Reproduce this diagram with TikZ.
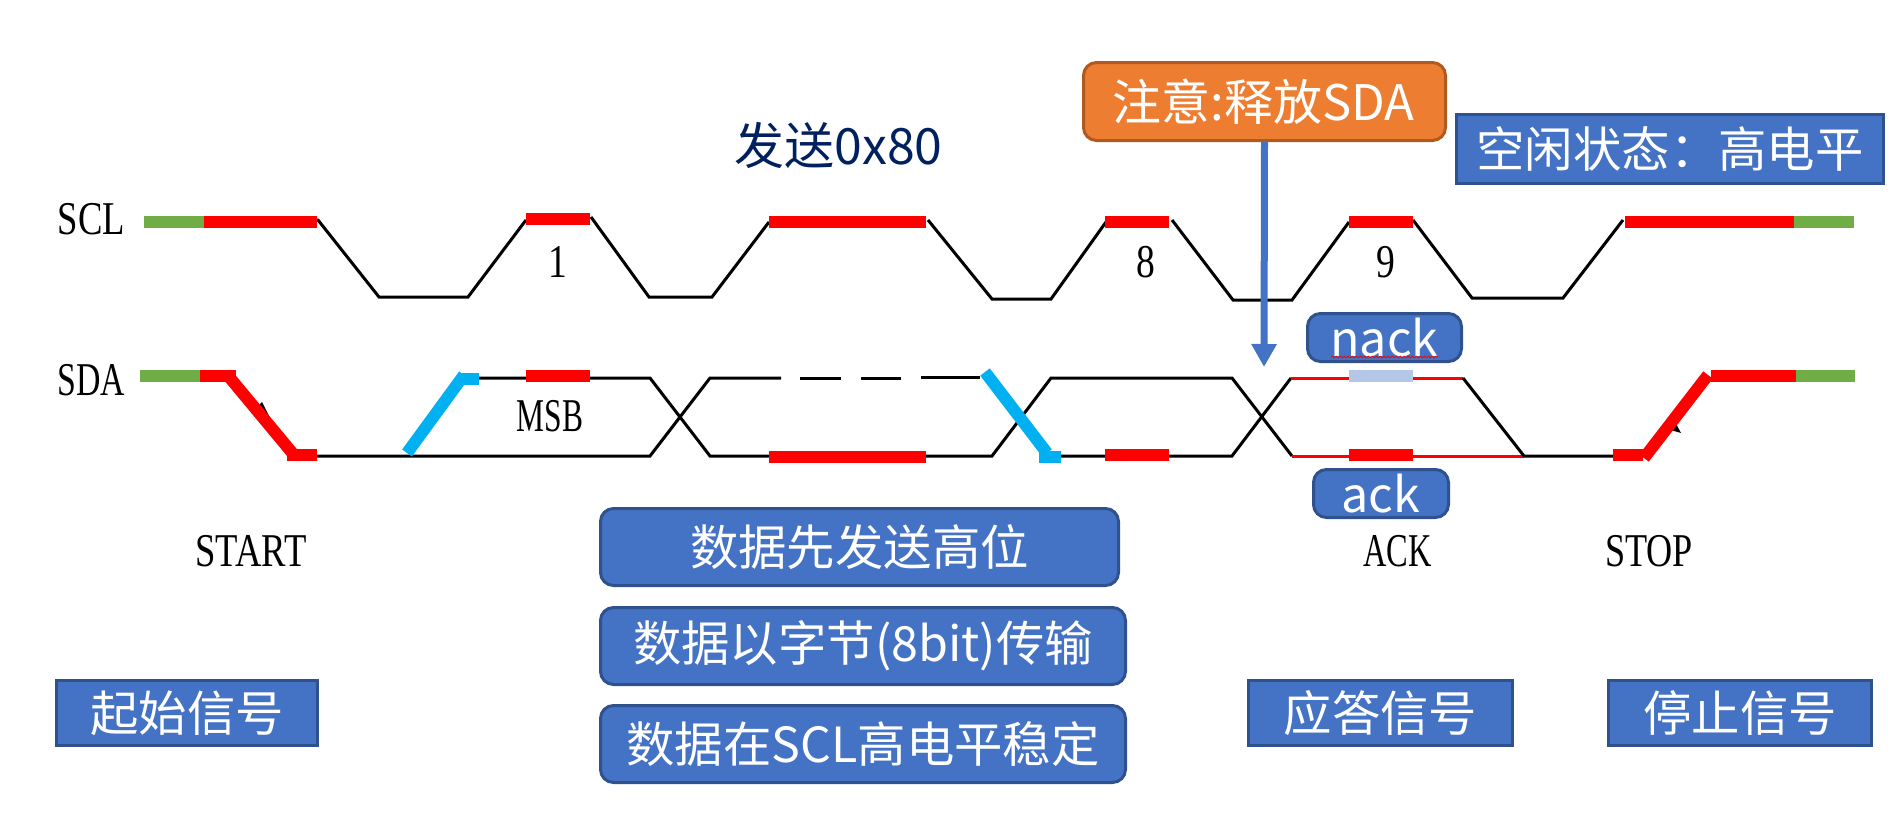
\documentclass[tikz,border=0pt]{standalone}
\usepackage{graphicx}
\usepackage{fontspec}
\setmainfont{Liberation Serif}
\newfontfamily\cjk{Noto Sans CJK SC}
\usetikzlibrary{arrows.meta,decorations.pathmorphing}
\definecolor{boxblue}{HTML}{4472C4}
\definecolor{boxedge}{HTML}{2F528F}
\definecolor{noteorange}{HTML}{ED7D31}
\definecolor{noteedge}{HTML}{AE5A21}
\definecolor{idlegreen}{HTML}{70AD47}
\definecolor{beatred}{HTML}{FF0000}
\definecolor{edgecyan}{HTML}{00B0F0}
\definecolor{paleblue}{HTML}{B4C7E7}
\definecolor{titlenavy}{HTML}{002060}
\newcommand{\cjksize}{\cjk\fontsize{48.4}{52}\selectfont}
\newcommand{\sername}[2]{\scalebox{#1}[1]{\fontsize{47}{48}\selectfont #2}}
\tikzset{
  trace/.style={draw=black,line width=3pt,line join=miter},
  thinred/.style={draw=beatred,line width=3pt},
  bar/.style={line width=12pt,line cap=butt},
  slant/.style={line width=12pt,line cap=butt},
  sharpbox/.style={draw=boxedge,fill=boxblue,line width=3pt,text=white,inner sep=0pt,font=\cjksize},
  roundbox/.style={sharpbox,rounded corners=13pt},
  notebox/.style={roundbox,draw=noteedge,fill=noteorange},
  serlabel/.style={text=black,inner sep=0pt},
  releasearrow/.style={draw=boxblue,line width=7pt,-{Triangle[length=23pt,width=24pt,fill=boxblue]}},
}
\begin{document}
\begin{tikzpicture}[x=1pt,y=-1pt]
\useasboundingbox (0,0) rectangle (1901,814);
% SCL trace
\draw[trace] (317,220) -- (318,220) -- (379,297) -- (468,297) -- (526,220);
\draw[trace] (591,217) -- (649,297) -- (712,297) -- (769,222);
\draw[trace] (928,220) -- (992,299) -- (1051,299) -- (1106,222);
\draw[trace] (1172,220) -- (1233,300) -- (1292,300) -- (1349,222);
\draw[trace] (1413,220) -- (1472,298) -- (1563,298) -- (1623,220);
% SDA trace
\draw[trace] (317,456) -- (650,456) -- (710,378) -- (781,378);
\draw[trace] (800,378) -- (841,378);
\draw[trace] (861,378) -- (901,378);
\draw[trace] (921,377) -- (980,377);
\draw[trace] (479,378) -- (650,378) -- (710,456) -- (992,456) -- (1051,378) -- (1232,378) -- (1292,456);
\draw[trace] (1061,456) -- (1232,456) -- (1291,378);
\draw[thinred] (1291,378) -- (1463,378);
\draw[thinred] (1292,456) -- (1524,456);
\draw[trace] (1463,378) -- (1524,456) -- (1613,456);
% hidden arrow heads
\fill[black] (262,402) -- (270,418) -- (251,413) -- cycle;
\fill[black] (1674,420) -- (1681,433) -- (1664,428) -- cycle;
% SCL bars
\draw[bar,idlegreen] (144,222) -- (204,222);
\draw[bar,beatred] (204,222) -- (317,222);
\draw[bar,beatred] (526,219) -- (590,219);
\draw[bar,beatred] (769,222) -- (926,222);
\draw[bar,beatred] (1105,222) -- (1169,222);
\draw[bar,beatred] (1349,222) -- (1413,222);
\draw[bar,beatred] (1625,222) -- (1794,222);
\draw[bar,idlegreen] (1794,222) -- (1854,222);
% SDA bars
\draw[bar,idlegreen] (140,376) -- (200,376);
\draw[bar,beatred] (200,376) -- (236,376);
\draw[slant,beatred] (230,378) -- (294,455);
\draw[bar,beatred] (287,455) -- (317,455);
\draw[bar,beatred] (526,376) -- (590,376);
\draw[bar,beatred] (769,457) -- (926,457);
\draw[bar,beatred] (1105,455) -- (1169,455);
\draw[bar,beatred] (1349,455) -- (1413,455);
\draw[bar,paleblue] (1349,376) -- (1413,376);
\draw[bar,beatred] (1613,455) -- (1643,455);
\draw[slant,beatred] (1644,458) -- (1708,375);
\draw[bar,beatred] (1711,376) -- (1796,376);
\draw[bar,idlegreen] (1796,376) -- (1855,376);
% cyan edges
\draw[slant,edgecyan] (407,453) -- (464,375);
\draw[bar,edgecyan] (462,379) -- (479,379);
\draw[slant,edgecyan] (985,372) -- (1047,453);
\draw[bar,edgecyan] (1039,457) -- (1061,457);
% serif labels
\node[serlabel] (sclname) at (91.5,219) {\sername{0.78}{SCL}};
\node[serlabel] (sdaname) at (91.5,380) {\sername{0.72}{SDA}};
\node[serlabel] (one) at (558,262) {\fontsize{47}{48}\selectfont\scalebox{0.8}[1]{1}};
\node[serlabel] (eight) at (1146,262) {\fontsize{47}{48}\selectfont\scalebox{0.8}[1]{8}};
\node[serlabel] (nine) at (1386,262) {\fontsize{47}{48}\selectfont\scalebox{0.8}[1]{9}};
\node[serlabel] (msb) at (550,416) {\sername{0.67}{MSB}};
\node[serlabel] (start) at (251,551) {\sername{0.78}{START}};
\node[serlabel] (ack) at (1397.5,551) {\sername{0.69}{ACK}};
\node[serlabel] (stop) at (1649,551) {\sername{0.77}{STOP}};
% title
\node[text=titlenavy,inner sep=0pt,font=\cjk\fontsize{50}{54}\selectfont] (title) at (838.5,145) {发送0x80};
% boxes
\node[notebox,minimum width=362pt,minimum height=78pt,font=\cjk\fontsize{49}{52}\selectfont] (note) at (1264.5,101.5) {\hspace{-2pt}注意:释放SDA};
\coordinate (releasetip) at (1264,367);
\draw[releasearrow] (note.south) -- (releasetip);
\node[sharpbox,minimum width=427pt,minimum height=69pt] (idle) at (1670,149) {空闲状态：高电平};
\node[roundbox,minimum width=154pt,minimum height=48pt] (nackbox) at (1384.5,337.5) {nack};
\node[roundbox,minimum width=135pt,minimum height=48pt] (ackbox) at (1381,493.5) {ack};
\coordinate (wavea) at (1331,357);
\coordinate (waveb) at (1438,357);
\draw[beatred,line width=0.8pt,decorate,decoration={snake,amplitude=0.9pt,segment length=4pt}] (wavea) -- (waveb);
\node[sharpbox,minimum width=261pt,minimum height=65pt] (startbox) at (187,713) {起始信号};
\node[roundbox,minimum width=518pt,minimum height=77pt] (msbfirst) at (859.5,547) {数据先发送高位};
\node[roundbox,minimum width=525pt,minimum height=77pt] (bytes) at (863,646) {数据以字节(8bit)传输};
\node[roundbox,minimum width=525pt,minimum height=77pt] (stable) at (863,744) {数据在SCL高电平稳定};
\node[sharpbox,minimum width=264pt,minimum height=65pt] (ackname) at (1380.5,713) {应答信号};
\node[sharpbox,minimum width=263pt,minimum height=65pt] (stopname) at (1740,713) {停止信号};
\end{tikzpicture}
\end{document}
